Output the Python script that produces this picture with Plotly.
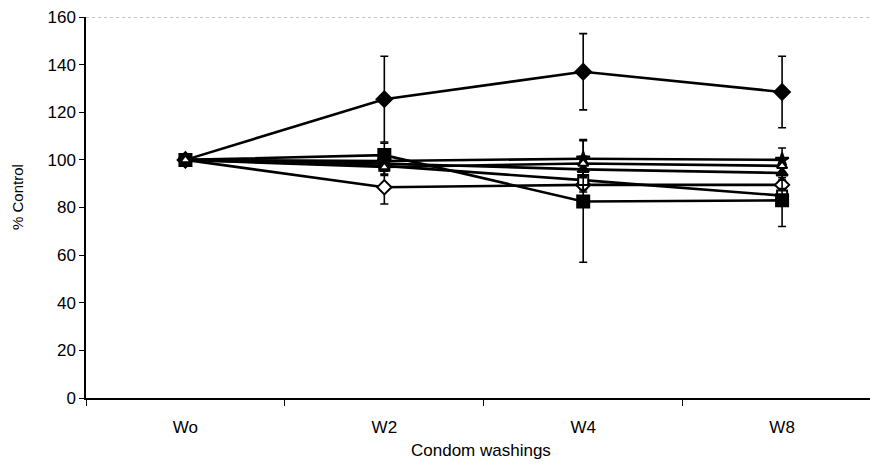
import plotly.graph_objects as go

categories = ["Wo", "W2", "W4", "W8"]

# series values (% control) and error bars
filled_diamond = [100, 125.5, 137, 128.5]
filled_diamond_err = [0, 18, 16, 15]

open_diamond = [100, 88.5, 89.5, 89.5]
open_diamond_err = [0, 7, 3, 3]

filled_square = [100, 102, 82.5, 83]
filled_square_err = [0, 5, 25.5, 11]

open_square = [100, 97.5, 91.5, 85]
open_square_err = [0, 4, 4, 3]

open_triangle = [100, 97, 98.5, 97.5]
open_triangle_err = [0, 3, 3, 3]

filled_triangle = [100, 98.5, 96, 94.5]
filled_triangle_err = [0, 3, 3, 3]

star = [100, 99.5, 100.5, 100]
star_err = [0, 4, 8, 5]

# (name, values, errors, symbol, fill colour, size)
series = [
    ("filled diamond", filled_diamond, filled_diamond_err, "diamond", "black", 12),
    ("open diamond", open_diamond, open_diamond_err, "diamond", "white", 11),
    ("open square", open_square, open_square_err, "square", "white", 10),
    ("filled triangle", filled_triangle, filled_triangle_err, "triangle-up", "black", 10),
    ("star", star, star_err, "star", "black", 10),
    ("filled square", filled_square, filled_square_err, "square", "black", 12),
    ("open triangle", open_triangle, open_triangle_err, "triangle-up", "white", 9),
]

fig = go.Figure()
for name, vals, err, sym, fill, size in series:
    fig.add_trace(go.Scatter(
        x=categories, y=vals, name=name, mode="lines+markers",
        line=dict(color="black", width=2.6),
        marker=dict(symbol=sym, size=size, color=fill,
                    line=dict(color="black", width=2)),
        error_y=dict(type="data", array=err, visible=True,
                     color="black", thickness=1.6, width=4),
    ))

font = "Liberation Sans, Arial, sans-serif"
W, H = 870, 466
L, R, T, B = 86, 0, 17, 68
pw = W - L - R
ph = H - T - B

fig.update_layout(
    width=W, height=H,
    margin=dict(l=L, r=R, t=T, b=B, autoexpand=False),
    plot_bgcolor="white", paper_bgcolor="white",
    showlegend=False,
    font=dict(family=font, size=17, color="black"),
    xaxis=dict(
        type="category", range=[-0.5, 3.442],
        tickson="boundaries", ticks="outside", ticklen=6, tickcolor="black",
        showline=True, linecolor="black", linewidth=1.5,
        showgrid=False, zeroline=False,
        ticklabelstandoff=13,
        tickfont=dict(size=17, family=font),
    ),
    yaxis=dict(
        range=[0, 160], tickvals=[0, 20, 40, 60, 80, 100, 120, 140, 160],
        ticks="outside", ticklen=5, tickcolor="black",
        showline=True, linecolor="black", linewidth=1.5,
        showgrid=False, zeroline=False,
        tickfont=dict(size=17, family=font),
    ),
    shapes=[dict(type="line", xref="paper", yref="y", x0=0, x1=1, y0=160, y1=160,
                 line=dict(color="#888888", width=1, dash="dot"))],
    annotations=[
        dict(text="Condom washings", xref="paper", yref="paper",
             x=(481 - L) / pw, y=-(451 - (T + ph)) / ph,
             xanchor="center", yanchor="middle",
             showarrow=False, font=dict(size=17, family=font)),
        dict(text="% Control", xref="paper", yref="paper",
             x=(17 - L) / pw, y=(T + ph - 197) / ph, textangle=-90,
             xanchor="center", yanchor="middle",
             showarrow=False, font=dict(size=15, family=font)),
    ],
)

fig.write_html("out.html", config={"displayModeBar": False},
               post_script="document.body.style.margin='0';document.body.style.overflow='hidden';")
